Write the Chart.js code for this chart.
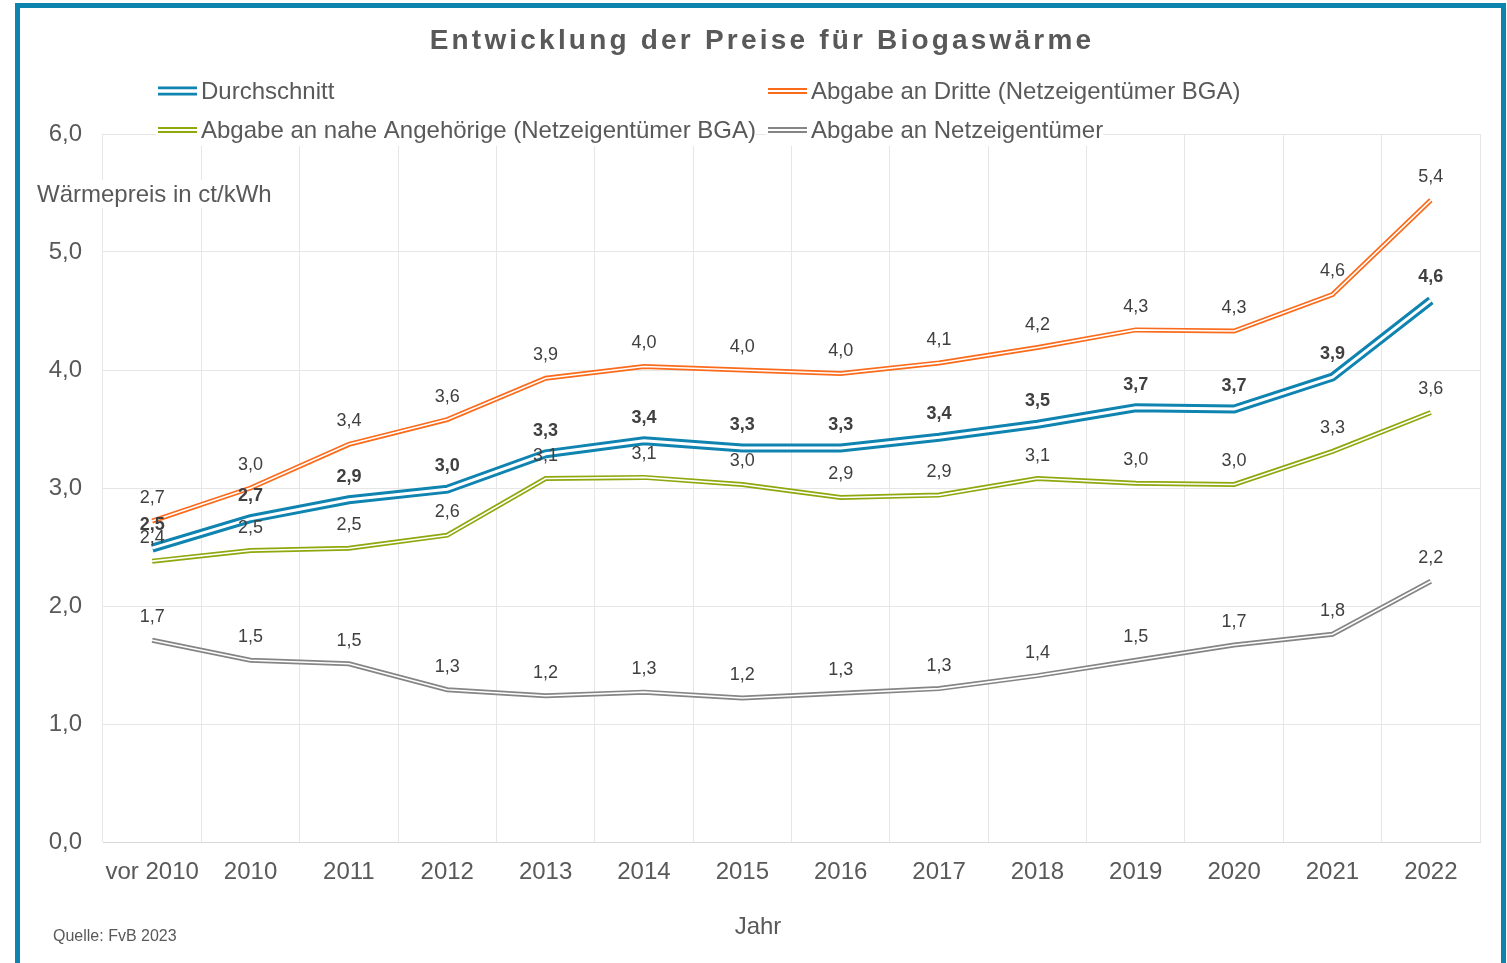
<!DOCTYPE html>
<html lang="de">
<head>
<meta charset="utf-8">
<title>Entwicklung der Preise für Biogaswärme</title>
<script src="https://cdn.jsdelivr.net/npm/chart.js@4.4.1/dist/chart.umd.min.js"></script>
<style>
  html, body { margin: 0; padding: 0; background: #fff; }
  body { width: 1507px; height: 963px; position: relative; overflow: hidden; }
  #frame { position: absolute; left: 15px; top: 3px; width: 1481px; height: 1000px; border: 5px solid #0c84ae; }
  #chart { position: absolute; left: 0; top: 0; }
</style>
</head>
<body>
<div id="frame"></div>
<canvas id="chart" width="1507" height="963"></canvas>
<script>
// Kategorien (x-Achse)
const kategorien = ['vor 2010', '2010', '2011', '2012', '2013', '2014', '2015',
  '2016', '2017', '2018', '2019', '2020', '2021', '2022'];

// Wärmepreise in ct/kWh
const durchschnitt = [2.49, 2.74, 2.90, 2.99, 3.29, 3.40, 3.34, 3.34, 3.43, 3.54, 3.68, 3.67, 3.94, 4.59];
const abgabeDritte = [2.72, 3.00, 3.37, 3.58, 3.93, 4.03, 4.00, 3.97, 4.06, 4.19, 4.34, 4.33, 4.64, 5.44];
const abgabeAngehoerige = [2.38, 2.47, 2.49, 2.60, 3.08, 3.09, 3.03, 2.92, 2.94, 3.08, 3.04, 3.03, 3.31, 3.64];
const abgabeNetz = [1.71, 1.54, 1.51, 1.29, 1.24, 1.27, 1.22, 1.26, 1.30, 1.41, 1.54, 1.67, 1.76, 2.21];

// y-Achse
const yTicks = [0, 1, 2, 3, 4, 5, 6];

const FONT = '"Liberation Sans", Arial, sans-serif';
const TEXT_COLOR = '#595959';

// Serien: Farbe, Linienbreite aussen / innen (weisse Doppellinie)
const serien = [
  { name: 'Durchschnitt', data: durchschnitt, color: '#0f84b0', outer: 9, inner: 3, bold: true },
  { name: 'Abgabe an Dritte (Netzeigentümer BGA)', data: abgabeDritte, color: '#fa6b1c', outer: 5, inner: 1.6, bold: false },
  { name: 'Abgabe an nahe Angehörige (Netzeigentümer BGA)', data: abgabeAngehoerige, color: '#8ea80e', outer: 5, inner: 1.6, bold: false },
  { name: 'Abgabe an Netzeigentümer', data: abgabeNetz, color: '#858585', outer: 5, inner: 1.6, bold: false }
];

function fmt(v) {
  return v.toFixed(1).replace('.', ',');
}

// each series = coloured thick line + thin white line on top
const datasets = [];
serien.forEach((s, k) => {
  const base = { data: s.data, pointRadius: 0, tension: 0, fill: false, borderJoinStyle: 'miter' };
  datasets.push(Object.assign({}, base, { label: s.name, borderColor: s.color, borderWidth: s.outer, order: k * 2 + 1 }));
  datasets.push(Object.assign({}, base, { label: s.name + ' innen', borderColor: '#ffffff', borderWidth: s.inner, order: k * 2 }));
});

// Draw the value labels above each point
const valueLabels = {
  id: 'valueLabels',
  afterDatasetsDraw(chart) {
    const ctx = chart.ctx;
    ctx.save();
    ctx.textAlign = 'center';
    ctx.textBaseline = 'middle';
    ctx.fillStyle = '#404040';
    for (let k = serien.length - 1; k >= 0; k--) {
      const s = serien[k];
      const meta = chart.getDatasetMeta(k * 2);
      ctx.font = (s.bold ? 'bold ' : '') + '18px ' + FONT;
      meta.data.forEach((pt, j) => {
        ctx.fillText(fmt(s.data[j]), pt.x, pt.y - 23);
      });
    }
    ctx.restore();
  }
};

// Title, legend, axis titles and source
const decorations = {
  id: 'decorations',
  afterDraw(chart) {
    const ctx = chart.ctx;
    ctx.save();

    // Titel
    ctx.fillStyle = TEXT_COLOR;
    ctx.font = 'bold 28px ' + FONT;
    ctx.textAlign = 'center';
    ctx.textBaseline = 'middle';
    ctx.letterSpacing = '3.2px';
    ctx.fillText('Entwicklung der Preise für Biogaswärme', 762, 41);
    ctx.letterSpacing = '0px';

    // Legende (2 Spalten)
    const pos = [[158, 91], [768, 91], [158, 130], [768, 130]];
    ctx.font = '24px ' + FONT;
    ctx.textAlign = 'left';
    serien.forEach((s, k) => {
      const x = pos[k][0], y = pos[k][1];
      const w = ctx.measureText(s.name).width;
      ctx.fillStyle = '#ffffff';
      ctx.fillRect(x - 2, y - 14, 45 + w, 30);
      ctx.beginPath();
      ctx.moveTo(x, y);
      ctx.lineTo(x + 39, y);
      ctx.strokeStyle = s.color;
      ctx.lineWidth = s.bold ? 9 : 6;
      ctx.stroke();
      ctx.strokeStyle = '#ffffff';
      ctx.lineWidth = s.bold ? 3.5 : 2;
      ctx.stroke();
      ctx.fillStyle = TEXT_COLOR;
      ctx.fillText(s.name, x + 43, y + 1);
    });

    // y-Achsentitel
    const yt = 'Wärmepreis in ct/kWh';
    const ytw = ctx.measureText(yt).width;
    ctx.fillStyle = '#ffffff';
    ctx.fillRect(35, 180, ytw + 4, 28);
    ctx.fillStyle = TEXT_COLOR;
    ctx.fillText(yt, 37, 195);

    // x-Achsentitel
    ctx.textAlign = 'center';
    ctx.fillText('Jahr', 758, 927);

    // Quelle
    ctx.textAlign = 'left';
    ctx.font = '16px ' + FONT;
    ctx.fillText('Quelle: FvB 2023', 53, 937);

    ctx.restore();
  }
};

const chart = new Chart(document.getElementById('chart'), {
  type: 'line',
  data: { labels: kategorien, datasets: datasets },
  plugins: [valueLabels, decorations],
  options: {
    responsive: false,
    animation: false,
    layout: { padding: { left: 10, right: 27, top: 134, bottom: 61 } },
    plugins: {
      legend: { display: false },
      title: { display: false },
      tooltip: { enabled: false }
    },
    scales: {
      x: {
        offset: true,
        grid: { offset: true, color: '#e6e6e6', drawTicks: false },
        border: { color: '#d9d9d9' },
        ticks: { color: TEXT_COLOR, font: { family: FONT, size: 24 }, padding: 16, maxRotation: 0, autoSkip: false },
        afterFit(scale) { scale.height = 60; }
      },
      y: {
        min: 0,
        max: 6,
        afterBuildTicks(scale) { scale.ticks = yTicks.map(v => ({ value: v })); },
        grid: { color: '#e6e6e6', drawTicks: false },
        border: { display: false },
        ticks: { color: TEXT_COLOR, font: { family: FONT, size: 24 }, padding: 21, callback: v => fmt(v) },
        afterFit(scale) { scale.width = 93; }
      }
    }
  }
});
</script>
</body>
</html>
